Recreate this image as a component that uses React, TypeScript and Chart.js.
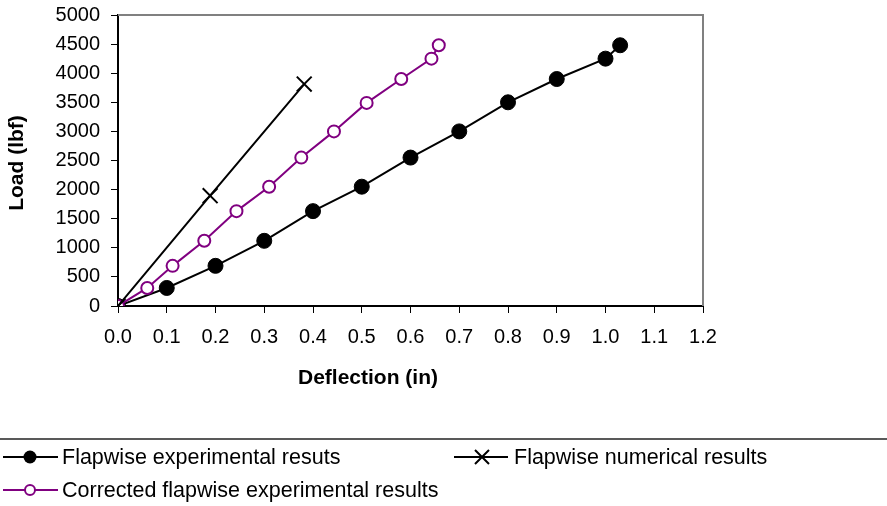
import React, { useEffect, useRef } from "react";
import { Chart, registerables } from "chart.js";

Chart.register(...registerables);

const expDeflection = [0, 0.1, 0.2, 0.3, 0.4, 0.5, 0.6, 0.7, 0.8, 0.9, 1.0, 1.03];
const expLoad = [0, 310, 690, 1120, 1630, 2050, 2550, 3000, 3500, 3900, 4250, 4480];
const corrDeflection = [0, 0.06, 0.112, 0.177, 0.243, 0.31, 0.376, 0.443, 0.51, 0.581, 0.643, 0.658];
const corrLoad = [0, 310, 690, 1120, 1630, 2050, 2550, 3000, 3490, 3900, 4250, 4480];
const numDeflection = [0, 0.189, 0.382];
const numLoad = [0, 1895, 3814];

const xTickLabels = ["0.0", "0.1", "0.2", "0.3", "0.4", "0.5", "0.6", "0.7", "0.8", "0.9", "1.0", "1.1", "1.2"];
const yTickLabels = ["0", "500", "1000", "1500", "2000", "2500", "3000", "3500", "4000", "4500", "5000"];

const seriesNames = [
  "Flapwise experimental resuts",
  "Flapwise numerical results",
  "Corrected flapwise experimental results",
];
const xTitle = "Deflection (in)";
const yTitle = "Load (lbf)";

const PURPLE = "#800080";
const FONT = "'Liberation Sans', Arial, sans-serif";

const pts = (xs: number[], ys: number[]) => xs.map((x, i) => ({ x, y: ys[i] }));

const decorPlugin = {
  id: "decor",
  beforeDatasetsDraw(chart: any) {
    const { ctx, chartArea } = chart;
    ctx.save();
    ctx.strokeStyle = "#808080";
    ctx.lineWidth = 2;
    ctx.beginPath();
    ctx.moveTo(chartArea.left, chartArea.top);
    ctx.lineTo(chartArea.right, chartArea.top);
    ctx.lineTo(chartArea.right, chartArea.bottom);
    ctx.stroke();
    ctx.restore();
  },
  afterDraw(chart: any) {
    const { ctx } = chart;
    ctx.save();
    // axis titles
    ctx.fillStyle = "#000";
    ctx.font = `bold 21px ${FONT}`;
    ctx.textAlign = "center";
    ctx.textBaseline = "middle";
    ctx.fillText(xTitle, 368, 378);
    ctx.save();
    ctx.translate(17, 163);
    ctx.rotate(-Math.PI / 2);
    ctx.fillText(yTitle, 0, 0);
    ctx.restore();

    // legend border line
    ctx.strokeStyle = "#222";
    ctx.lineWidth = 1.5;
    ctx.beginPath();
    ctx.moveTo(0, 439);
    ctx.lineTo(887, 439);
    ctx.stroke();

    ctx.font = `21.5px ${FONT}`;
    ctx.textAlign = "left";
    ctx.textBaseline = "middle";

    // item 1
    ctx.strokeStyle = "#000";
    ctx.lineWidth = 2;
    ctx.beginPath();
    ctx.moveTo(3, 457);
    ctx.lineTo(58, 457);
    ctx.stroke();
    ctx.fillStyle = "#000";
    ctx.beginPath();
    ctx.arc(30, 457, 6.5, 0, Math.PI * 2);
    ctx.fill();
    ctx.fillText(seriesNames[0], 62, 458);

    // item 2
    ctx.beginPath();
    ctx.moveTo(454, 457);
    ctx.lineTo(508, 457);
    ctx.stroke();
    ctx.beginPath();
    ctx.moveTo(475, 450);
    ctx.lineTo(489, 464);
    ctx.moveTo(489, 450);
    ctx.lineTo(475, 464);
    ctx.stroke();
    ctx.fillText(seriesNames[1], 514, 458);

    // item 3
    ctx.strokeStyle = PURPLE;
    ctx.beginPath();
    ctx.moveTo(3, 490);
    ctx.lineTo(58, 490);
    ctx.stroke();
    ctx.fillStyle = "#fff";
    ctx.beginPath();
    ctx.arc(30, 490, 5, 0, Math.PI * 2);
    ctx.fill();
    ctx.stroke();
    ctx.fillStyle = "#000";
    ctx.fillText(seriesNames[2], 62, 491);
    ctx.restore();
  },
};

export default function App() {
  const ref = useRef<HTMLCanvasElement>(null);
  useEffect(() => {
    document.body.style.margin = "0";
    const chart = new Chart(ref.current as HTMLCanvasElement, {
      type: "scatter",
      data: {
        datasets: [
          {
            label: seriesNames[1],
            data: pts(numDeflection, numLoad),
            showLine: true,
            borderColor: "#000",
            backgroundColor: "#000",
            borderWidth: 2,
            pointStyle: "crossRot",
            pointRadius: 10.5,
            pointBorderWidth: 2,
            order: 0,
          },
          {
            label: seriesNames[2],
            data: pts(corrDeflection, corrLoad),
            showLine: true,
            borderColor: PURPLE,
            backgroundColor: "#fff",
            borderWidth: 2,
            pointStyle: "circle",
            pointRadius: 6,
            pointBorderWidth: 2,
            order: 1,
          },
          {
            label: seriesNames[0],
            data: pts(expDeflection, expLoad),
            showLine: true,
            borderColor: "#000",
            backgroundColor: "#000",
            borderWidth: 2,
            pointStyle: "circle",
            pointRadius: 7.5,
            pointBorderWidth: 1,
            order: 2,
          },
        ],
      },
      options: {
        responsive: false,
        animation: false,
        layout: { padding: { left: 0, right: 184, top: 15, bottom: 0 } },
        plugins: { legend: { display: false }, tooltip: { enabled: false } },
        scales: {
          x: {
            type: "linear",
            min: 0,
            max: 1.2,
            afterFit: (s: any) => {
              s.height = 200;
              s.paddingLeft = 0;
              s.paddingRight = 0;
            },
            afterBuildTicks: (s: any) => {
              s.ticks = xTickLabels.map((t) => ({ value: parseFloat(t) }));
            },
            ticks: {
              color: "#000",
              font: { family: FONT, size: 20 },
              padding: 12,
              maxRotation: 0,
              autoSkip: false,
              callback: (_v: any, i: number) => xTickLabels[i],
            },
            grid: {
              drawOnChartArea: false,
              drawTicks: true,
              tickLength: 7,
              color: "#000",
              lineWidth: 1,
            },
            border: { display: true, color: "#000", width: 2 },
          },
          y: {
            type: "linear",
            min: 0,
            max: 5000,
            afterFit: (s: any) => {
              s.width = 118;
              s.paddingTop = 0;
              s.paddingBottom = 0;
            },
            afterBuildTicks: (s: any) => {
              s.ticks = yTickLabels.map((t) => ({ value: parseFloat(t) }));
            },
            ticks: {
              color: "#000",
              font: { family: FONT, size: 20 },
              padding: 11,
              autoSkip: false,
              callback: (_v: any, i: number) => yTickLabels[i],
            },
            grid: {
              drawOnChartArea: false,
              drawTicks: true,
              tickLength: 7,
              color: "#000",
              lineWidth: 1,
            },
            border: { display: true, color: "#000", width: 2 },
          },
        },
      },
      plugins: [decorPlugin],
    } as any);
    return () => chart.destroy();
  }, []);
  return (
    <div style={{ width: 887, height: 506 }}>
      <canvas ref={ref} width={887} height={506} />
    </div>
  );
}
